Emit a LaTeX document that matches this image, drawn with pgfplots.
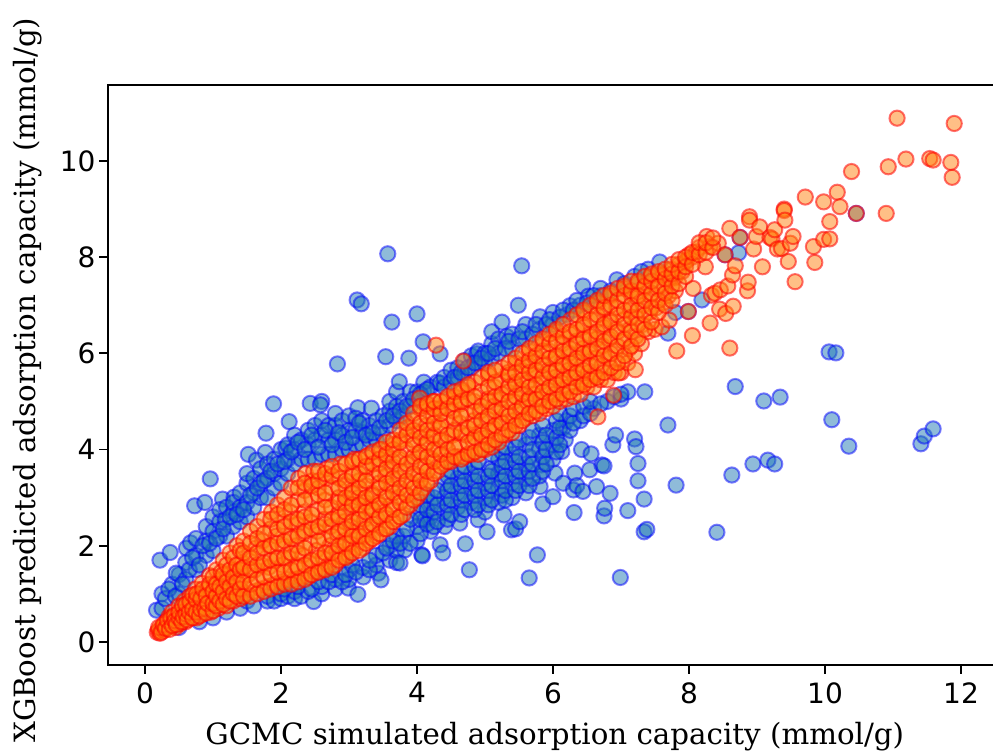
\documentclass[border=0pt]{standalone}
\usepackage{pgfplots}
\pgfplotsset{compat=1.18}
\usepackage{fontspec}
\setmainfont{DejaVu Sans}
\newfontfamily\labelfont{DejaVu Serif}
\definecolor{cblue}{HTML}{1F77B4}
\definecolor{corange}{HTML}{FF7F0E}
\begin{document}
\begin{tikzpicture}[x=1pt,y=1pt]
\clip (0,0) rectangle (993,754);
\useasboundingbox (0,0) rectangle (993,754);
\begin{axis}[
  at={(108pt,89pt)},anchor=south west,
  scale only axis,width=890pt,height=580pt,
  xmin=-0.544,xmax=12.544,ymin=-0.48,ymax=11.58,
  xtick={0,2,4,6,8,10,12},ytick={0,2,4,6,8,10},
  tick align=outside,tick pos=left,
  major tick length=9pt,
  every tick/.style={black,line width=1.8pt},
  axis line style={line width=1.8pt},
  /pgf/number format/assume math mode=true,
  tick label style={font=\fontsize{28}{32}\selectfont},
  xticklabel style={yshift=-5pt},
  xlabel={GCMC simulated adsorption capacity (mmol/g)},
  ylabel={XGBoost predicted adsorption capacity (mmol/g)},
  label style={font=\labelfont\fontsize{29.3}{34}\selectfont},
  xlabel style={at={(axis description cs:0.502,-0.124)},anchor=center},
  ylabel style={at={(axis description cs:-0.09,0.491)},anchor=center},
  clip=true,
]
\addplot[only marks,mark=*,mark size=7.6pt,
  mark options={line width=2pt,draw=blue,draw opacity=0.5,fill=cblue,fill opacity=0.5}] coordinates {
(0.17,0.66)(0.22,1.70)(0.37,1.86)(0.25,0.7)(0.25,1.0)(0.4,1.2)(0.5,1.0)(0.5,1.4)(0.46,1.43)(0.6,1.3)(0.6,1.65)(0.61,1.95)(0.67,2.06)
(0.75,1.5)(0.75,1.8)(0.75,2.15)(0.73,2.83)(0.88,2.9)(0.9,1.8)(0.9,2.1)(0.9,2.4)(0.96,3.39)(1.0,1.9)(1.0,2.3)(1.0,2.6)(1.14,2.97)(1.31,3.01)
(1.1,2.2)(1.1,2.5)(1.1,2.75)(1.2,2.2)(1.18,2.54)(1.2,2.8)(1.3,2.4)(1.3,2.7)(1.3,2.9)(1.4,2.5)(1.4,2.8)(1.4,3.1)(1.5,2.6)(1.5,2.9)(1.5,3.3)(1.5,3.5)
(1.52,3.9)(1.64,3.78)(1.6,2.8)(1.6,3.1)(1.6,3.4)(1.7,3.0)(1.7,3.3)(1.7,3.6)(1.77,3.94)(1.78,4.34)(1.8,3.0)(1.8,3.4)(1.8,3.7)(1.89,4.95)(1.9,3.2)(1.9,3.5)(1.9,3.8)
(2.0,3.3)(2.0,3.6)(2.0,4.0)(2.07,4.03)(2.12,4.58)(2.1,3.5)(2.1,3.8)(2.1,4.1)(2.2,3.7)(2.2,4.0)(2.2,4.3)(2.3,3.8)(2.3,4.2)(2.4,3.8)(2.4,4.1)(2.4,4.4)(2.43,4.96)
(2.5,3.8)(2.5,4.2)(2.5,4.5)(2.6,3.9)(2.6,4.3)(2.6,4.6)(2.6,5.0)(2.58,4.93)(2.7,3.9)(2.7,4.2)(2.7,4.5)(2.8,3.9)(2.8,4.2)(2.8,4.5)(2.8,4.75)(2.83,5.78)
(2.9,4.0)(2.9,4.3)(2.9,4.6)(3.0,4.0)(3.0,4.4)(3.0,4.7)(3.13,4.87)(3.33,4.86)(3.1,4.1)(3.1,4.4)(3.1,4.65)(3.12,7.11)(3.18,7.03)(3.2,4.1)(3.2,4.35)(3.2,4.6)
(3.3,4.2)(3.3,4.5)(3.4,4.2)(3.4,4.6)(3.5,4.3)(3.5,4.7)(3.54,5.93)(3.57,8.07)(3.63,6.65)(3.6,4.5)(3.6,4.8)(3.6,5.0)(3.7,4.6)(3.7,4.9)(3.7,5.2)(3.74,5.41)(3.8,4.7)(3.8,5.0)(3.88,5.9)
(3.9,4.9)(3.9,5.2)(4.0,6.82)(4.0,5.2)(4.09,6.24)(4.1,5.2)(4.1,5.4)(4.2,5.3)(4.3,5.4)(4.34,5.38)(4.34,5.99)(4.4,5.3)(4.4,5.5)(4.5,5.4)(4.5,5.65)(4.6,5.5)(4.6,5.7)
(4.7,5.6)(4.7,5.85)(4.8,5.7)(4.8,5.95)(4.88,5.99)(4.9,5.8)(4.9,6.05)(5.0,5.8)(5.0,6.0)(5.1,5.9)(5.1,6.2)(5.1,6.45)(5.2,6.0)(5.2,6.3)(5.25,6.65)(5.32,6.35)
(5.4,6.1)(5.4,6.4)(5.49,7.0)(5.54,7.82)(5.6,6.3)(5.6,6.6)(5.8,6.5)(5.81,6.76)(6.0,6.6)(6.0,6.85)(6.2,6.8)(6.25,6.99)(6.44,7.4)(6.52,7.19)(6.4,7.0)(6.7,7.2)(6.7,7.35)(6.94,7.53)(7.4,7.75)(7.57,7.9)
(8.53,8.05)(8.73,8.09)(8.75,8.41)(8.19,7.11)(7.99,6.87)(7.69,6.42)(7.8,6.85)(10.46,8.91)
(0.5,0.3)(0.8,0.42)(1.0,0.5)(1.2,0.62)(1.4,0.7)(1.5,0.85)(1.6,0.75)(1.8,0.85)(1.8,0.95)(1.9,0.85)(2.0,0.9)(2.0,1.0)(2.1,0.95)(2.2,0.9)(2.2,1.05)(2.3,0.95)(2.48,0.84)(2.4,1.05)(2.6,1.0)(2.6,1.15)(2.8,1.1)(2.8,1.3)(2.99,1.12)(3.13,0.99)(3.0,1.3)(3.0,1.5)(3.21,1.35)(3.2,1.55)(3.43,1.43)(3.47,1.29)(3.4,1.6)(3.4,1.8)(3.6,1.7)(3.6,2.0)(3.7,1.65)(3.7,1.9)(3.7,2.2)(3.82,1.91)(3.8,2.2)(3.75,1.64)
(4.0,2.1)(4.0,2.4)(4.0,2.7)(4.07,1.81)(4.08,1.79)(4.12,2.54)(4.2,2.3)(4.2,2.6)(4.2,2.9)(4.34,2.02)(4.38,1.85)(4.41,2.4)(4.4,2.7)(4.4,3.0)(4.4,3.3)(4.63,2.47)(4.6,2.8)(4.6,3.1)(4.6,3.4)(4.71,2.04)(4.77,1.5)(4.9,2.54)(4.8,2.9)(4.8,3.2)(4.8,3.5)(5.03,2.29)(5.0,2.7)(5.0,3.0)(5.0,3.3)(5.07,3.6)
(5.28,2.64)(5.2,2.9)(5.2,3.2)(5.2,3.5)(5.2,3.8)(5.39,2.33)(5.45,2.35)(5.51,2.5)(5.4,3.0)(5.4,3.3)(5.4,3.6)(5.4,3.9)(5.6,3.1)(5.6,3.4)(5.6,3.7)(5.6,4.1)(5.65,1.33)(5.77,1.81)(5.81,3.23)(5.83,3.68)(5.85,2.87)(5.8,3.45)(5.8,4.0)(5.8,4.3)(6.0,3.02)(6.03,3.51)(6.0,3.8)(6.0,4.1)(6.0,4.4)
(6.15,3.3)(6.15,4.45)(6.18,4.2)(6.13,3.96)(6.2,4.6)(6.31,2.69)(6.3,3.16)(6.32,3.51)(6.35,3.25)(6.42,4.0)(6.44,3.13)(6.4,4.6)(6.54,3.58)(6.56,3.91)(6.6,4.85)(6.64,3.23)(6.72,3.68)(6.75,3.66)(6.75,2.62)(6.76,2.78)(6.84,3.09)(6.88,4.1)(6.92,4.30)(6.8,5.0)(6.99,1.34)(7.0,5.05)(7.1,2.73)(7.1,5.2)(7.2,4.22)(7.22,4.06)(7.25,3.71)(7.25,3.35)(7.34,2.97)(7.34,2.29)(7.38,2.34)(7.35,5.2)
(7.69,4.51)(7.81,3.26)(8.41,2.28)(8.63,3.47)(8.68,5.31)(8.94,3.7)(9.1,5.01)(9.16,3.78)(9.26,3.7)(9.34,5.09)(10.06,6.03)(10.16,6.01)(10.1,4.62)(10.35,4.07)(11.41,4.12)(11.46,4.28)(11.59,4.43)
(0.3,0.9)(0.35,1.1)(0.45,0.95)(0.55,1.2)(0.65,1.5)(0.7,1.75)(0.8,1.6)(0.85,2.0)(0.95,2.05)(1.05,2.15)(1.15,2.35)(1.25,2.6)(1.35,2.65)(1.45,2.75)(1.55,3.05)(1.65,3.2)(1.75,3.35)(1.85,3.55)(1.95,3.7)(2.05,3.75)(2.15,3.95)(2.25,4.15)(2.35,4.0)(2.45,4.3)(2.55,4.05)(2.65,4.4)(2.75,4.1)(2.85,4.35)(2.95,4.15)(3.05,4.25)(3.15,4.55)(3.25,4.3)(3.35,4.35)(3.45,4.45)(3.55,4.6)(3.65,4.7)(3.75,4.8)(3.85,4.9)(3.95,5.05)(4.05,5.15)(4.15,5.25)
(4.55,5.5)(4.65,5.6)(4.75,5.7)(4.85,5.8)(4.95,5.9)(5.05,6.0)(5.15,6.1)(5.3,6.1)(5.35,6.25)(5.5,6.3)(5.55,6.45)(5.7,6.4)(5.75,6.6)(5.9,6.6)(5.95,6.7)(6.1,6.75)(6.15,6.9)(6.3,6.9)(6.35,7.1)(6.5,7.05)(6.6,7.2)(6.85,7.3)(7.05,7.45)(7.2,7.6)(7.3,7.7)
(2.05,1.1)(2.25,1.15)(2.45,1.1)(2.55,1.25)(2.7,1.25)(2.75,1.4)(2.9,1.25)(2.95,1.4)(3.05,1.6)(3.1,1.45)(3.3,1.5)(3.3,1.7)(3.5,1.85)(3.55,1.95)(3.65,2.1)(3.75,2.05)(3.85,2.35)(3.9,2.05)(3.9,2.55)
(4.05,2.25)(4.05,2.55)(4.05,2.85)(4.15,2.45)(4.15,2.75)(4.15,3.05)(4.25,2.4)(4.25,2.7)(4.25,3.0)(4.3,2.5)(4.3,2.85)(4.3,3.15)(4.45,2.55)(4.45,2.85)(4.45,3.15)(4.45,3.45)(4.5,2.65)(4.5,2.95)(4.5,3.25)(4.5,3.55)(4.65,2.65)(4.65,2.95)(4.65,3.25)(4.65,3.55)(4.7,2.75)(4.7,3.05)(4.7,3.35)(4.7,3.65)(4.85,2.75)(4.85,3.05)(4.85,3.35)(4.85,3.65)(4.9,2.85)(4.9,3.15)(4.9,3.45)(4.9,3.75)
(5.05,2.85)(5.05,3.15)(5.05,3.45)(5.1,2.95)(5.1,3.25)(5.1,3.55)(5.1,3.9)(5.25,3.05)(5.25,3.35)(5.25,3.65)(5.25,3.95)(5.3,2.95)(5.3,3.15)(5.3,3.45)(5.3,3.75)(5.3,4.05)(5.45,3.15)(5.45,3.45)(5.45,3.75)(5.45,4.05)(5.5,3.25)(5.5,3.55)(5.5,3.85)(5.5,4.2)(5.65,3.25)(5.65,3.55)(5.65,3.85)(5.65,4.25)(5.7,3.4)(5.7,3.7)(5.7,4.0)(5.7,4.4)(5.85,3.55)(5.85,3.85)(5.85,4.15)(5.85,4.5)(5.9,3.7)(5.9,4.0)(5.9,4.3)
(6.05,3.95)(6.05,4.25)(6.05,4.6)(6.1,4.1)(6.1,4.45)(6.1,4.75)(6.25,4.4)(6.25,4.7)(6.3,4.55)(6.3,4.85)(6.45,4.7)(6.45,4.9)(6.55,4.75)(6.55,5.0)(6.7,4.95)(6.9,5.1)(7.0,5.15)
};
\addplot[only marks,mark=*,mark size=7.6pt,
  mark options={line width=2pt,draw=red,draw opacity=0.55,fill=corange,fill opacity=0.5}] coordinates {
(0.18,0.2)(0.2,0.24)(0.22,0.18)(0.25,0.3)(0.28,0.24)(0.3,0.4)(0.32,0.3)(0.35,0.52)(0.37,0.32)(0.4,0.62)(0.42,0.4)(0.45,0.3)(0.47,0.55)(0.5,0.75)(0.52,0.38)(0.55,0.6)(0.58,0.85)(0.6,0.42)(0.63,0.7)(0.66,0.95)(0.68,0.5)(0.7,0.8)(0.74,1.1)(0.76,0.5)(0.78,0.75)(0.8,1.0)(0.84,1.22)(0.85,0.58)(0.88,0.85)(0.92,1.1)(0.95,1.38)(0.97,0.62)(1.0,0.9)(1.02,1.2)(1.05,1.5)(1.08,0.7)(1.1,1.0)(1.13,1.3)(1.15,1.7)
(1.2,0.75)(1.22,1.05)(1.23,1.4)(1.25,1.85)(1.3,0.85)(1.32,1.15)(1.33,1.5)(1.35,2.0)(1.4,0.9)(1.42,1.3)(1.43,1.65)(1.45,2.1)(1.5,1.0)(1.52,1.4)(1.53,1.8)(1.55,2.3)(1.6,1.05)(1.62,1.5)(1.63,1.95)(1.65,2.4)(1.7,1.1)(1.72,1.6)(1.73,2.1)(1.75,2.55)(1.8,1.15)(1.82,1.55)(1.83,2.0)(1.85,2.35)(1.86,2.7)(1.9,1.2)(1.92,1.7)(1.93,2.2)(1.95,2.85)
(2.0,1.25)(2.02,1.6)(2.03,2.0)(2.04,2.5)(2.05,3.0)(2.1,1.3)(2.12,1.75)(2.13,2.2)(2.14,2.7)(2.15,3.2)(2.2,1.3)(2.22,1.6)(2.23,2.0)(2.24,2.45)(2.25,2.95)(2.26,3.4)(2.3,1.35)(2.32,1.8)(2.33,2.25)(2.34,2.7)(2.35,3.15)(2.36,3.5)
(2.4,1.35)(2.42,1.65)(2.43,2.05)(2.44,2.5)(2.45,3.0)(2.46,3.35)(2.48,3.55)(2.5,1.45)(2.52,1.9)(2.53,2.3)(2.54,2.75)(2.55,3.2)(2.6,1.5)(2.62,1.75)(2.63,2.15)(2.64,2.55)(2.65,2.95)(2.66,3.4)(2.68,3.6)(2.7,1.6)(2.72,2.0)(2.73,2.4)(2.74,2.8)(2.75,3.2)
(2.8,1.6)(2.82,1.9)(2.83,2.25)(2.84,2.65)(2.85,3.0)(2.86,3.4)(2.88,3.7)(2.9,1.75)(2.92,2.1)(2.93,2.5)(2.94,2.9)(2.95,3.25)(3.0,1.8)(3.02,2.05)(3.03,2.4)(3.04,2.8)(3.05,3.15)(3.06,3.5)(3.08,3.8)(3.1,1.95)(3.12,2.3)(3.13,2.65)(3.14,3.0)(3.15,3.35)(3.2,1.95)(3.22,2.2)(3.23,2.55)(3.24,2.9)(3.25,3.25)(3.26,3.6)(3.28,3.88)(3.3,2.1)(3.32,2.4)(3.33,2.8)(3.34,3.1)(3.35,3.45)
(3.4,2.2)(3.42,2.55)(3.43,2.9)(3.44,3.3)(3.45,3.7)(3.48,4.0)(3.5,2.35)(3.52,2.7)(3.53,3.05)(3.54,3.45)(3.55,3.85)(3.6,2.4)(3.62,2.85)(3.63,3.25)(3.64,3.65)(3.65,4.1)(3.7,2.55)(3.72,3.0)(3.73,3.4)(3.74,3.8)(3.75,4.2)(3.8,2.65)(3.82,3.1)(3.83,3.55)(3.84,4.0)(3.85,4.45)(3.9,2.85)(3.92,3.3)(3.93,3.75)(3.94,4.2)(3.95,4.6)
(4.0,3.0)(4.02,3.45)(4.03,3.9)(4.04,4.35)(4.05,4.85)(4.04,5.07)(4.1,3.2)(4.12,3.65)(4.13,4.1)(4.14,4.5)(4.15,4.9)(4.2,3.35)(4.22,3.8)(4.23,4.25)(4.24,4.7)(4.25,5.0)(4.28,6.17)(4.3,3.55)(4.32,4.0)(4.33,4.45)(4.34,4.85)(4.4,3.7)(4.42,4.15)(4.43,4.6)(4.44,5.05)(4.5,3.75)(4.52,4.3)(4.53,4.8)(4.55,5.1)(4.6,3.85)(4.62,4.1)(4.63,4.55)(4.64,4.95)(4.68,5.84)(4.66,5.2)(4.7,3.85)(4.72,4.3)(4.73,4.75)(4.75,5.3)
(4.8,3.9)(4.82,4.2)(4.83,4.6)(4.84,5.0)(4.85,5.4)(4.9,3.9)(4.92,4.35)(4.93,4.8)(4.94,5.2)(5.0,4.0)(5.02,4.25)(5.03,4.65)(5.04,5.05)(5.05,5.55)(5.1,4.05)(5.12,4.45)(5.13,4.9)(5.14,5.3)(5.2,4.15)(5.22,4.6)(5.23,5.05)(5.24,5.45)(5.25,5.7)(5.3,4.3)(5.32,4.75)(5.33,5.2)(5.34,5.6)(5.4,4.35)(5.42,4.6)(5.43,5.0)(5.44,5.4)(5.45,5.8)(5.5,4.5)(5.52,4.85)(5.53,5.25)(5.54,5.65)(5.6,4.65)(5.62,5.0)(5.63,5.4)(5.64,5.75)(5.65,6.05)(5.7,4.7)(5.72,5.15)(5.73,5.55)(5.74,5.9)
(5.8,4.75)(5.82,5.05)(5.83,5.4)(5.84,5.8)(5.85,6.25)(5.9,4.85)(5.92,5.25)(5.93,5.65)(5.94,6.05)(6.0,4.9)(6.02,5.15)(6.03,5.5)(6.04,5.9)(6.05,6.45)(6.1,5.0)(6.12,5.4)(6.13,5.8)(6.14,6.2)(6.2,5.05)(6.22,5.3)(6.23,5.65)(6.24,6.0)(6.25,6.4)(6.26,6.7)(6.3,5.1)(6.32,5.5)(6.33,5.85)(6.34,6.25)(6.4,5.15)(6.42,5.4)(6.43,5.75)(6.44,6.1)(6.45,6.55)(6.46,6.85)(6.5,5.3)(6.52,5.6)(6.53,6.0)(6.54,6.4)
(6.6,5.3)(6.62,5.55)(6.63,5.9)(6.64,6.3)(6.65,6.7)(6.66,7.05)(6.66,4.68)(6.7,5.45)(6.72,5.75)(6.73,6.15)(6.74,6.55)(6.75,6.9)(6.8,5.45)(6.82,5.9)(6.83,6.3)(6.84,6.7)(6.85,7.2)(6.89,5.13)(6.9,5.6)(6.92,6.05)(6.93,6.5)(6.94,6.95)(7.0,5.6)(7.02,5.85)(7.03,6.25)(7.04,6.7)(7.05,7.35)(6.96,5.59)(7.1,5.8)(7.12,6.1)(7.13,6.5)(7.14,6.9)(7.15,7.25)(7.21,5.66)(7.2,6.0)(7.22,6.35)(7.23,6.75)(7.24,7.15)(7.25,7.45)(7.3,6.2)(7.32,6.6)(7.33,7.0)(7.34,7.35)
(7.4,6.45)(7.42,6.85)(7.43,7.2)(7.44,7.6)(7.5,6.5)(7.52,6.95)(7.53,7.35)(7.55,7.65)(7.62,7.63)(7.6,6.55)(7.62,7.05)(7.64,7.4)(7.71,6.69)(7.7,7.2)(7.72,7.55)(7.74,7.75)(7.79,7.57)(7.8,7.3)(7.82,6.05)(7.85,7.85)(7.9,7.7)(7.95,7.9)(7.97,7.94)(8.0,8.05)(8.05,6.37)(8.06,7.35)(7.99,6.87)(8.05,8.0)(8.11,8.11)(8.15,8.2)(8.24,7.8)(8.26,8.43)(8.31,8.22)(8.31,6.63)(8.33,7.21)(8.38,7.25)(8.43,8.29)(8.46,7.32)(8.45,6.92)(8.53,8.05)(8.54,6.83)(8.57,7.4)(8.6,8.6)(8.6,6.11)(8.64,7.63)(8.65,6.98)(8.68,7.82)(8.75,8.41)(8.86,7.3)(8.87,7.48)
(8.89,8.84)(8.89,8.77)(8.95,8.17)(8.99,8.43)(9.04,8.63)(9.08,7.8)(9.19,8.41)(9.22,8.38)(9.26,8.57)(9.3,8.17)(9.36,8.18)(9.4,9.0)(9.4,8.97)(9.41,8.77)(9.46,7.91)(9.49,8.29)(9.53,8.43)(9.56,7.49)(9.71,9.25)(9.83,8.22)(9.85,7.89)(9.98,9.15)(9.98,8.37)(10.07,8.38)(10.07,8.74)(10.18,9.35)(10.22,9.05)(10.39,9.78)(10.46,8.91)(10.9,8.91)(10.93,9.88)(11.06,10.89)(11.19,10.04)(11.54,10.05)(11.59,10.02)(11.85,9.97)(11.87,9.66)(11.9,10.78)
(0.2,0.3)(0.24,0.2)(0.27,0.36)(0.3,0.28)(0.33,0.44)(0.36,0.26)(0.38,0.5)(0.4,0.34)(0.43,0.55)(0.44,0.44)(0.46,0.36)(0.5,0.5)(0.5,0.62)(0.54,0.42)(0.55,0.75)(0.56,0.52)(0.6,0.58)(0.6,0.78)(0.62,0.46)(0.65,0.62)(0.66,0.84)(0.7,0.5)(0.7,0.68)(0.7,0.98)(0.75,0.62)(0.75,0.88)(0.76,1.0)(0.8,0.54)(0.82,0.68)(0.82,0.9)(0.85,1.1)(0.88,0.7)(0.9,0.6)(0.9,0.96)(0.92,0.8)(0.95,1.2)(1.0,0.65)(1.0,0.8)(1.0,1.05)(1.0,1.35)
(1.05,0.75)(1.05,0.95)(1.05,1.2)(1.1,0.85)(1.1,1.15)(1.12,1.45)(1.15,0.78)(1.15,1.05)(1.15,1.4)(1.2,0.9)(1.2,1.25)(1.2,1.6)(1.25,0.85)(1.25,1.15)(1.25,1.5)(1.3,1.0)(1.3,1.35)(1.3,1.75)(1.35,0.95)(1.35,1.25)(1.35,1.6)(1.4,1.1)(1.4,1.5)(1.4,1.9)
(1.45,0.95)(1.45,1.25)(1.45,1.55)(1.45,1.85)(1.55,0.95)(1.55,1.2)(1.55,1.5)(1.55,1.75)(1.55,2.05)(1.65,1.0)(1.65,1.3)(1.65,1.6)(1.65,1.85)(1.65,2.15)(1.75,1.05)(1.75,1.35)(1.75,1.65)(1.75,1.95)(1.75,2.25)(1.85,1.1)(1.85,1.4)(1.85,1.7)(1.85,2.0)(1.85,2.55)(1.95,1.15)(1.95,1.45)(1.95,1.75)(1.95,2.05)(1.95,2.35)(1.95,2.65)
(2.05,1.2)(2.05,1.45)(2.05,1.75)(2.05,2.1)(2.05,2.4)(2.05,2.75)(2.15,1.2)(2.15,1.5)(2.15,1.85)(2.15,2.15)(2.15,2.5)(2.15,2.85)(2.25,1.25)(2.25,1.55)(2.25,1.85)(2.25,2.2)(2.25,2.55)(2.25,3.2)(2.35,1.3)(2.35,1.6)(2.35,1.95)(2.35,2.3)(2.35,2.6)(2.35,2.95)(2.35,3.3)
(2.45,1.4)(2.45,1.7)(2.45,2.35)(2.45,2.65)(2.45,3.25)(2.55,1.45)(2.55,1.75)(2.55,2.1)(2.55,2.4)(2.55,3.05)(2.55,3.35)(2.55,3.55)(2.65,1.5)(2.65,1.85)(2.65,2.45)(2.65,2.8)(2.65,3.1)(2.65,3.5)(2.75,1.55)(2.75,1.85)(2.75,2.2)(2.75,2.55)(2.75,3.45)(2.75,3.65)
(2.85,1.7)(2.85,2.0)(2.85,2.3)(2.85,2.6)(2.85,2.9)(2.85,3.2)(2.85,3.55)(2.95,1.75)(2.95,2.05)(2.95,2.35)(2.95,2.7)(2.95,3.0)(2.95,3.35)(2.95,3.7)(3.05,1.85)(3.05,2.2)(3.05,2.5)(3.05,2.85)(3.05,3.1)(3.05,3.45)(3.05,3.75)(3.15,1.9)(3.15,2.2)(3.15,2.55)(3.15,2.85)(3.15,3.2)(3.15,3.5)(3.15,3.8)
(3.25,2.05)(3.25,2.35)(3.25,2.7)(3.25,3.0)(3.25,3.35)(3.25,3.65)(3.25,3.85)(3.35,2.15)(3.35,2.45)(3.35,2.75)(3.35,3.05)(3.35,3.7)(3.35,3.95)(3.45,2.25)(3.45,2.6)(3.45,2.85)(3.45,3.2)(3.45,3.5)(3.45,3.8)(3.45,4.0)(3.55,2.35)(3.55,2.65)(3.55,3.0)(3.55,3.3)(3.55,3.6)(3.55,3.9)(3.55,4.15)
(3.65,2.5)(3.65,2.75)(3.65,3.1)(3.65,3.4)(3.65,3.75)(3.65,4.0)(3.65,4.2)(3.75,2.6)(3.75,2.9)(3.75,3.2)(3.75,3.55)(3.75,3.85)(3.75,4.15)(3.75,4.4)(3.85,2.8)(3.85,3.05)(3.85,3.35)(3.85,3.7)(3.85,4.3)(3.85,4.55)(3.95,2.95)(3.95,3.2)(3.95,3.5)(3.95,3.85)(3.95,4.1)(3.95,4.4)(3.95,4.75)
(4.05,3.1)(4.05,3.35)(4.05,3.65)(4.05,3.95)(4.05,4.25)(4.05,4.55)(4.05,4.9)(4.15,3.3)(4.15,3.55)(4.15,3.85)(4.15,4.15)(4.15,4.4)(4.15,4.7)(4.15,4.95)(4.25,3.5)(4.25,3.75)(4.25,4.0)(4.25,4.3)(4.25,4.55)(4.25,4.85)(4.25,5.0)(4.35,3.65)(4.35,3.9)(4.35,4.2)(4.35,4.5)(4.35,4.75)(4.35,5.0)
(4.45,3.75)(4.45,4.0)(4.45,4.3)(4.45,4.85)(4.45,5.1)(4.55,3.85)(4.55,4.05)(4.55,4.4)(4.55,4.65)(4.55,4.95)(4.55,5.2)(4.65,3.8)(4.65,4.35)(4.65,4.7)(4.65,5.0)(4.65,5.25)(4.75,3.9)(4.75,4.15)(4.75,4.45)(4.75,5.05)(4.75,5.35)(4.85,3.95)(4.85,4.25)(4.85,4.5)(4.85,4.8)(4.85,5.1)(4.95,4.0)(4.95,4.3)(4.95,4.6)(4.95,4.9)(4.95,5.5)
(5.05,4.1)(5.05,4.4)(5.05,4.7)(5.05,5.0)(5.05,5.3)(5.05,5.6)(5.15,4.2)(5.15,4.5)(5.15,4.8)(5.15,5.1)(5.15,5.4)(5.15,5.65)(5.25,4.3)(5.25,4.55)(5.25,4.85)(5.25,5.15)(5.35,4.4)(5.35,4.7)(5.35,5.0)(5.35,5.3)(5.35,5.55)(5.35,5.8)(5.45,4.5)(5.45,4.8)(5.45,5.1)(5.45,5.35)(5.45,5.6)(5.45,5.9)
(5.55,4.6)(5.55,4.9)(5.55,5.15)(5.55,5.45)(5.55,5.75)(5.55,6.0)(5.65,4.75)(5.65,5.05)(5.65,5.3)(5.65,5.6)(5.65,5.85)(5.65,6.1)(5.75,4.8)(5.75,5.05)(5.75,5.35)(5.75,5.65)(5.75,5.95)(5.75,6.2)(5.85,4.9)(5.85,5.2)(5.85,5.5)(5.85,5.75)(5.85,6.05)(5.85,6.3)(5.95,5.0)(5.95,5.3)(5.95,5.6)(5.95,5.9)(5.95,6.2)(5.95,6.4)
(6.05,5.05)(6.05,5.35)(6.05,5.65)(6.05,5.95)(6.05,6.25)(6.05,6.5)(6.15,5.15)(6.15,5.45)(6.15,5.75)(6.15,6.05)(6.15,6.35)(6.15,6.6)(6.25,5.2)(6.25,5.5)(6.25,5.8)(6.25,6.1)(6.25,6.45)(6.35,5.3)(6.35,5.6)(6.35,5.9)(6.35,6.2)(6.35,6.5)(6.35,6.8)(6.45,5.35)(6.45,5.65)(6.45,6.0)(6.45,6.3)(6.45,6.6)(6.45,6.9)
(6.55,5.45)(6.55,5.75)(6.55,6.05)(6.55,6.35)(6.55,6.7)(6.55,7.0)(6.65,5.5)(6.65,5.8)(6.65,6.1)(6.65,6.45)(6.65,6.8)(6.65,7.1)(6.75,5.6)(6.75,5.95)(6.75,6.25)(6.75,6.6)(6.75,6.95)(6.75,7.2)(6.85,5.7)(6.85,6.0)(6.85,6.35)(6.85,6.65)(6.85,7.0)(6.85,7.25)(6.95,5.8)(6.95,6.15)(6.95,6.45)(6.95,6.8)(6.95,7.1)(6.95,7.35)
(7.05,5.95)(7.05,6.3)(7.05,6.6)(7.05,6.9)(7.05,7.2)(7.05,7.4)(7.15,6.15)(7.15,6.45)(7.15,6.75)(7.15,7.0)(7.15,7.3)(7.15,7.5)(7.25,6.3)(7.25,6.6)(7.25,6.9)(7.25,7.2)(7.25,7.5)(7.35,6.5)(7.35,6.8)(7.35,7.1)(7.35,7.4)(7.35,7.6)(7.45,6.65)(7.45,6.95)(7.45,7.25)(7.45,7.5)(7.45,7.65)
(7.55,6.85)(7.55,7.1)(7.55,7.4)(7.55,7.7)(7.65,7.0)(7.65,7.25)(7.65,7.55)(7.65,7.75)(7.75,7.1)(7.75,7.4)(7.75,7.65)(7.75,7.85)(7.85,7.45)(7.85,7.7)(7.85,7.95)(7.95,7.6)(7.95,7.8)(7.95,8.0)(8.05,7.85)(8.05,8.1)(8.15,8.05)(8.15,8.3)(8.25,8.1)(8.25,8.3)(8.35,8.2)(8.35,8.4)
};
\end{axis}
\end{tikzpicture}
\end{document}
